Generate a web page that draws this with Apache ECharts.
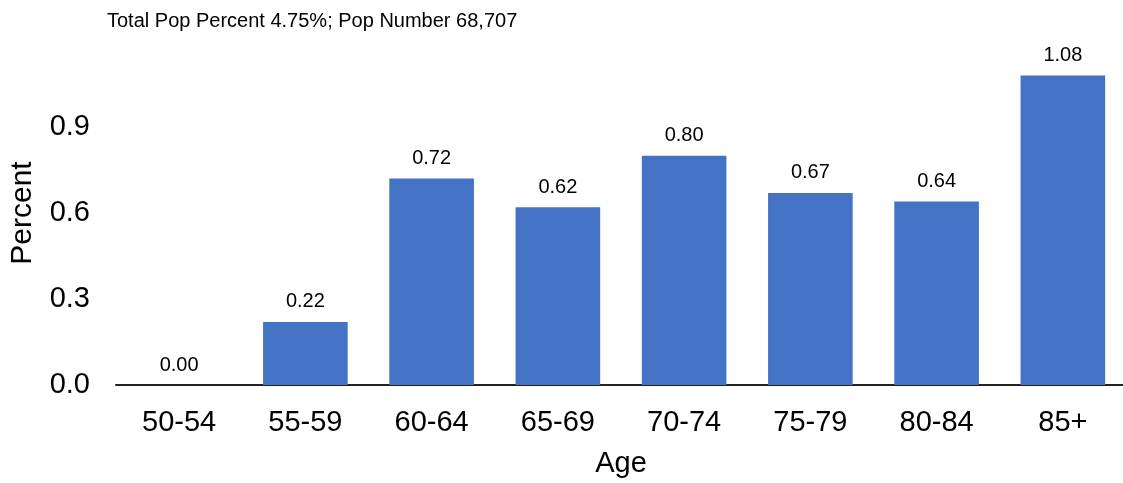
<!DOCTYPE html>
<html>
<head>
<meta charset="utf-8">
<script src="https://cdn.jsdelivr.net/npm/echarts@6/dist/echarts.min.js"></script>
<style>html,body{margin:0;padding:0;background:#fff}#c{width:1123px;height:483px}</style>
</head>
<body>
<div id="c"></div>
<script>
const categories = ["50-54","55-59","60-64","65-69","70-74","75-79","80-84","85+"];
const values = [0.00, 0.22, 0.72, 0.62, 0.80, 0.67, 0.64, 1.08];
const titleText = "Total Pop Percent 4.75%; Pop Number 68,707";

const chart = echarts.init(document.getElementById('c'));
chart.setOption({
  animation: false,
  textStyle: { fontFamily: 'Liberation Sans, Arial, sans-serif' },
  title: {
    text: titleText, left: 102, top: 6,
    textStyle: { fontSize: 20, fontWeight: 'normal', color: '#000', fontFamily: 'Liberation Sans' }
  },
  grid: { left: 116, top: 41, width: 1010, height: 344, containLabel: false, outerBoundsMode: 'none' },
  xAxis: {
    type: 'category', data: categories,
    name: 'Age', nameLocation: 'middle', nameGap: 64,
    nameTextStyle: { fontSize: 29, color: '#000' },
    axisLine: { lineStyle: { color: '#222', width: 2 } },
    axisTick: { show: false },
    axisLabel: { fontSize: 29, color: '#000', margin: 23 }
  },
  yAxis: {
    type: 'value', min: 0, max: 1.2, interval: 0.3,
    name: 'Percent', nameLocation: 'middle', nameGap: 78,
    nameTextStyle: { fontSize: 30, color: '#000' },
    axisLine: { show: false }, axisTick: { show: false },
    splitLine: { show: false },
    axisLabel: { fontSize: 29, color: '#000', margin: 26, showMaxLabel: false,
      formatter: v => v.toFixed(1) }
  },
  series: [{
    type: 'bar', data: values, barWidth: '67%',
    itemStyle: { color: '#4472C4' },
    label: { show: true, position: 'top', distance: 10, fontSize: 20, color: '#000',
      formatter: p => p.value.toFixed(2) }
  }]
});
</script>
</body>
</html>
